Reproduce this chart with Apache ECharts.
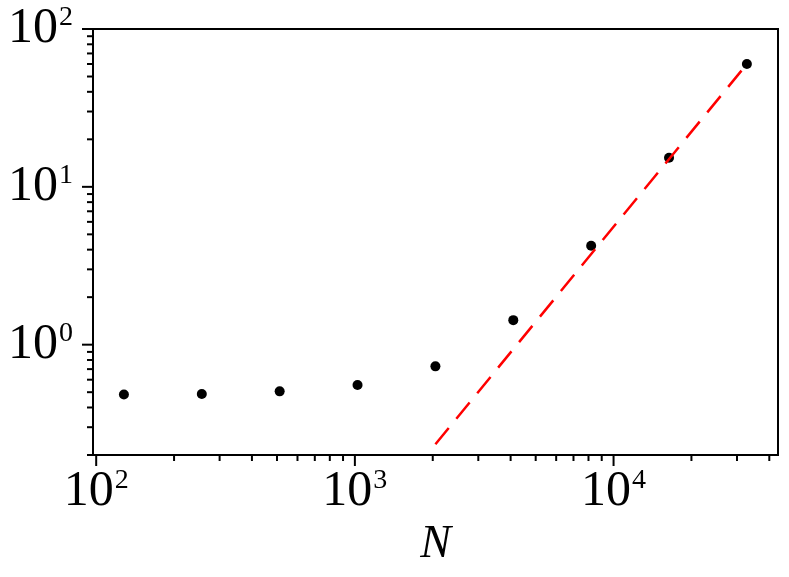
<!DOCTYPE html>
<html>
<head>
<meta charset="utf-8">
<script src="https://cdn.jsdelivr.net/npm/echarts@6/dist/echarts.min.js"></script>
<style>
    html, body { margin: 0; padding: 0; background: #fff; }
    #main { width: 789px; height: 577px; }
</style>
</head>
<body>
<div id="main"></div>
<script>
// 数据点
var sizes = [128, 256, 512, 1024, 2048, 4096, 8192, 16384, 32768];
var times = [0.483, 0.487, 0.506, 0.555, 0.729, 1.43, 4.23, 15.3, 60.0];
// N^2 参考线
var fitSizes = [2048, 32768];
var fitTimes = [0.234, 60.0];

// 坐标轴范围
var X_MIN = 97.2, X_MAX = 43220;
var Y_MIN = 0.2, Y_MAX = 100;

// 刻度
var xMajorTicks = [100, 1000, 10000];
var xMinorTicks = [200, 300, 400, 500, 600, 700, 800, 900,
    2000, 3000, 4000, 5000, 6000, 7000, 8000, 9000,
    20000, 30000, 40000];
var yMajorTicks = [1, 10, 100];
var yMinorTicks = [0.2, 0.3, 0.4, 0.5, 0.6, 0.7, 0.8, 0.9,
    2, 3, 4, 5, 6, 7, 8, 9,
    20, 30, 40, 50, 60, 70, 80, 90];

var FONT = 'Liberation Serif';

// 10 的幂 -> 10^k
function powLabel(v) {
    var e = Math.log10(v);
    var k = Math.round(e);
    if (Math.abs(e - k) > 1e-6) return '';
    return '10{sup|' + k + '}';
}

var labelRich = {
    sup: {
        fontSize: 28,
        fontFamily: FONT,
        color: '#000',
        lineHeight: 28,
        verticalAlign: 'top',
        padding: [0, 0, 0, 1]
    }
};

// 用自定义系列画刻度线（在坐标轴外侧）
function tickSeries(vals, onX, len) {
    return {
        type: 'custom',
        clip: false,
        silent: true,
        z: 5,
        data: vals.map(function (v) { return onX ? [v, Y_MIN] : [X_MIN, v]; }),
        renderItem: function (params, api) {
            var p = api.coord([api.value(0), api.value(1)]);
            var shape = onX
                ? { x1: p[0], y1: p[1], x2: p[0], y2: p[1] + len }
                : { x1: p[0], y1: p[1], x2: p[0] - len, y2: p[1] };
            return {
                type: 'line',
                shape: shape,
                style: { stroke: '#000', lineWidth: 2 }
            };
        }
    };
}

var myChart = echarts.init(document.getElementById('main'));
var option = {
    animation: false,
    backgroundColor: '#fff',
    grid: {
        left: 93, right: 11, top: 29, bottom: 122,
        show: true,
        borderColor: '#000',
        borderWidth: 2
    },
    xAxis: {
        type: 'log',
        logBase: 10,
        min: X_MIN,
        max: X_MAX,
        name: 'N',
        nameLocation: 'middle',
        nameGap: 62,
        nameTextStyle: { fontFamily: FONT, fontStyle: 'italic', fontSize: 46, color: '#000' },
        axisLine: { show: false },
        axisTick: { show: false },
        splitLine: { show: false },
        axisLabel: {
            margin: 12,
            fontFamily: FONT,
            fontSize: 50,
            lineHeight: 50,
            color: '#000',
            formatter: powLabel,
            rich: labelRich
        }
    },
    yAxis: {
        type: 'log',
        logBase: 10,
        min: Y_MIN,
        max: Y_MAX,
        axisLine: { show: false },
        axisTick: { show: false },
        splitLine: { show: false },
        axisLabel: {
            margin: 20,
            fontFamily: FONT,
            fontSize: 50,
            lineHeight: 50,
            color: '#000',
            showMaxLabel: true,
            formatter: powLabel,
            rich: labelRich
        }
    },
    series: [
        {
            type: 'scatter',
            data: sizes.map(function (n, i) { return [n, times[i]]; }),
            symbol: 'circle',
            symbolSize: 10,
            itemStyle: { color: '#000', opacity: 1 },
            z: 2
        },
        {
            type: 'line',
            data: fitSizes.map(function (n, i) { return [n, fitTimes[i]]; }),
            showSymbol: false,
            symbol: 'none',
            lineStyle: { color: '#ff0000', width: 2.5, type: [21, 12], cap: 'butt' },
            z: 3
        },
        tickSeries(xMajorTicks, true, 11),
        tickSeries(xMinorTicks, true, 6),
        tickSeries(yMajorTicks, false, 11),
        tickSeries(yMinorTicks, false, 6)
    ]
};
myChart.setOption(option);
</script>
</body>
</html>
